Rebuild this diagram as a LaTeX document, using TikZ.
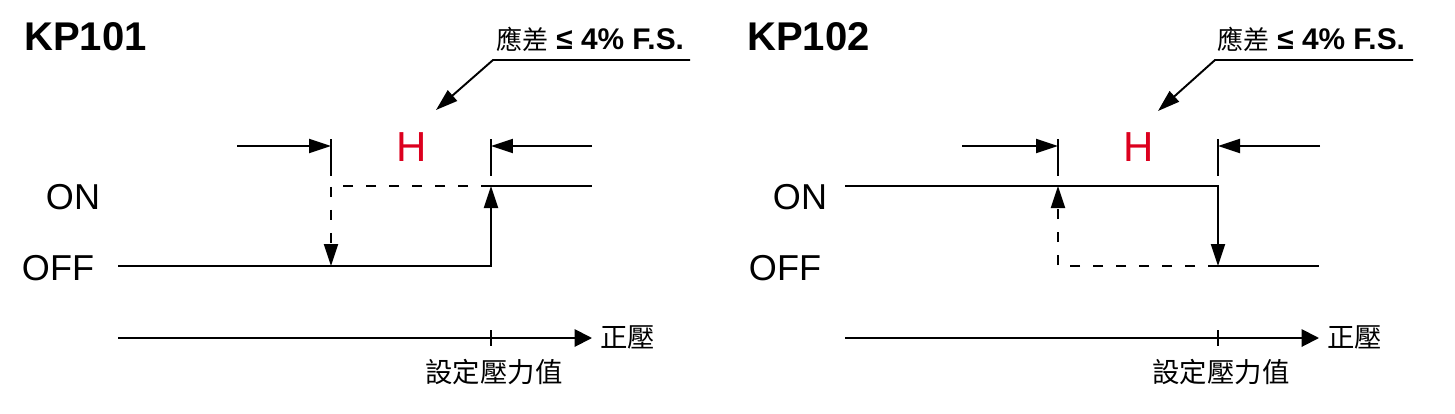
\documentclass[tikz,border=0pt]{standalone}
\usepackage{fontspec}
\setmainfont{Liberation Sans}
\newfontfamily\cjk{Noto Sans CJK TC}
\usetikzlibrary{arrows.meta}

\definecolor{hred}{RGB}{220,0,30}

\tikzset{
  sig/.style={line width=1.1pt},
  lagline/.style={sig, dash pattern=on 0.21cm off 0.25cm},
  tipsmall/.style={-{Triangle[length=0.44cm,width=0.28cm]}},
  tipaxis/.style={-{Triangle[length=0.35cm,width=0.35cm]}},
  model/.style={inner sep=0pt, font=\fontsize{22.8}{24}\selectfont\bfseries},
  lvl/.style={inner sep=0pt, font=\fontsize{20.5}{22}\selectfont},
  hyst/.style={inner sep=0pt, text=hred, font=\fontsize{23.9}{25}\selectfont},
  note/.style={inner sep=0pt, font=\fontsize{17}{18}\selectfont\bfseries},
  cjklabel/.style={inner sep=0pt, font=\fontsize{15.6}{16}\selectfont\cjk},
}

\newcommand{\notetext}{{\cjk\mdseries\fontsize{14.8}{16}\selectfont 應差}\ ≤ 4\% F.S.}

\begin{document}
\begin{tikzpicture}[x=0.02cm, y=-0.02cm]
    \useasboundingbox (0,0) rectangle (1455,413);

    % KP101
    \node[model, anchor=west] (KP1) at (24,37) {KP101};
    \node[lvl] (L-on)  at (73,197) {ON};
    \node[lvl] (L-off) at (58,268) {OFF};
    \node[hyst] (L-H) at (412,147) {H};
    \node[note] (L-note) at (590,39) {\notetext};
    \node[cjklabel, anchor=west] (L-pos) at (600,337) {正壓};
    \node[cjklabel] (L-set) at (494,372) {設定壓力值};

    \coordinate (L-off0) at (118,266);
    \coordinate (L-x1off) at (331,266);
    \coordinate (L-x2off) at (491,266);
    \coordinate (L-x1on) at (331,186);
    \coordinate (L-x2on) at (491,186);
    \coordinate (L-on1) at (592,186);
    \coordinate (L-dl) at (237,146);
    \coordinate (L-dlt) at (331,146);
    \coordinate (L-dr) at (592,146);
    \coordinate (L-drt) at (491,146);
    \coordinate (L-t1a) at (331,139);
    \coordinate (L-t1b) at (331,176);
    \coordinate (L-t2a) at (491,139);
    \coordinate (L-t2b) at (491,176);
    \coordinate (L-lead0) at (690,60);
    \coordinate (L-lead1) at (493,60);
    \coordinate (L-lead2) at (436,110);
    \coordinate (L-ax0) at (118,338);
    \coordinate (L-ax1) at (592,338);
    \coordinate (L-axa) at (491,330);
    \coordinate (L-axb) at (491,346);

    \draw[sig, tipsmall] (L-off0) -- (L-x2off) -- (L-x2on);
    \draw[sig] (L-x2on) -- (L-on1);
    \draw[lagline, tipsmall] (L-x2on) -- (L-x1on) -- (L-x1off);
    \draw[sig, tipsmall] (L-dl) -- (L-dlt);
    \draw[sig, tipsmall] (L-dr) -- (L-drt);
    \draw[sig] (L-t1a) -- (L-t1b);
    \draw[sig] (L-t2a) -- (L-t2b);
    \draw[sig, tipsmall] (L-lead0) -- (L-lead1) -- (L-lead2);
    \draw[sig, tipaxis] (L-ax0) -- (L-ax1);
    \draw[sig] (L-axa) -- (L-axb);

    % KP102
    \node[model, anchor=west] (KP2) at (747,37) {KP102};
    \node[lvl] (R-on)  at (800,197) {ON};
    \node[lvl] (R-off) at (785,268) {OFF};
    \node[hyst] (R-H) at (1139,147) {H};
    \node[note] (R-note) at (1311,39) {\notetext};
    \node[cjklabel, anchor=west] (R-pos) at (1327,337) {正壓};
    \node[cjklabel] (R-set) at (1221,372) {設定壓力值};

    \coordinate (R-on0) at (845,186);
    \coordinate (R-x1on) at (1058,186);
    \coordinate (R-x2on) at (1218,186);
    \coordinate (R-x1off) at (1058,266);
    \coordinate (R-x2off) at (1218,266);
    \coordinate (R-off1) at (1319,266);
    \coordinate (R-dl) at (962,146);
    \coordinate (R-dlt) at (1058,146);
    \coordinate (R-dr) at (1320,146);
    \coordinate (R-drt) at (1218,146);
    \coordinate (R-t1a) at (1058,139);
    \coordinate (R-t1b) at (1058,176);
    \coordinate (R-t2a) at (1218,139);
    \coordinate (R-t2b) at (1218,176);
    \coordinate (R-lead0) at (1413,60);
    \coordinate (R-lead1) at (1215,60);
    \coordinate (R-lead2) at (1158,111);
    \coordinate (R-ax0) at (845,338);
    \coordinate (R-ax1) at (1319,338);
    \coordinate (R-axa) at (1218,330);
    \coordinate (R-axb) at (1218,346);

    \draw[sig, tipsmall] (R-on0) -- (R-x2on) -- (R-x2off);
    \draw[sig] (R-x2off) -- (R-off1);
    \draw[lagline, tipsmall] (R-x2off) -- (R-x1off) -- (R-x1on);
    \draw[sig, tipsmall] (R-dl) -- (R-dlt);
    \draw[sig, tipsmall] (R-dr) -- (R-drt);
    \draw[sig] (R-t1a) -- (R-t1b);
    \draw[sig] (R-t2a) -- (R-t2b);
    \draw[sig, tipsmall] (R-lead0) -- (R-lead1) -- (R-lead2);
    \draw[sig, tipaxis] (R-ax0) -- (R-ax1);
    \draw[sig] (R-axa) -- (R-axb);

\end{tikzpicture}
\end{document}
